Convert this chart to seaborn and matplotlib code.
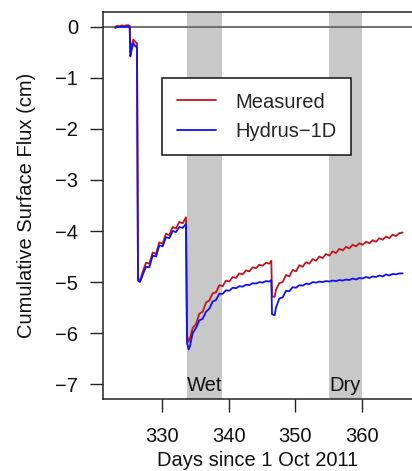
import matplotlib
matplotlib.use("Agg")
import matplotlib.pyplot as plt
import seaborn as sns
import pandas as pd
from matplotlib.lines import Line2D

days = [323.0, 323.3, 323.6, 324.0, 324.3, 324.6, 325.0, 325.15,
        325.25, 325.45, 325.7, 326.0, 326.25,
        326.4, 326.7, 327.1, 327.6, 328.1, 328.6, 329.1, 329.6, 330.1, 330.6,
        331.1, 331.6, 332.1, 332.6, 333.1, 333.6,
        333.75, 334.0, 334.2, 334.6, 335.1, 335.6, 336.1, 336.6, 337.1, 337.6,
        338.1, 338.6, 339.1, 339.6, 340.1, 340.6, 341.1, 341.6, 342.1, 342.6,
        343.1, 343.6, 344.1, 344.6, 345.1, 345.6, 346.1, 346.4,
        346.5, 346.9, 347.1, 347.6, 348.1, 348.6, 349.1, 349.6, 350.1, 350.6,
        351.1, 351.6, 352.1, 352.6, 353.1, 353.6, 354.1, 354.6, 355.1, 355.6,
        356.1, 356.6, 357.1, 357.6, 358.1, 358.6, 359.1, 359.6, 360.1, 360.6,
        361.1, 361.6, 362.1, 362.6, 363.1, 363.6, 364.1, 364.6, 365.1, 365.6,
        366.1]

measured = [0.00, 0.02, 0.01, 0.03, 0.01, 0.03, 0.03, 0.02,
            -0.50, -0.35, -0.25, -0.30, -0.32,
            -4.93, -4.97, -4.80, -4.62, -4.64, -4.42, -4.45, -4.22, -4.25, -4.05,
            -4.08, -3.92, -3.95, -3.82, -3.85, -3.73,
            -6.05, -6.17, -6.10, -5.90, -5.82, -5.62, -5.58, -5.40, -5.36, -5.22,
            -5.20, -5.06, -5.08, -4.97, -4.99, -4.90, -4.92, -4.83, -4.85, -4.77,
            -4.79, -4.71, -4.73, -4.66, -4.68, -4.62, -4.64, -4.58,
            -5.28, -5.29, -5.15, -5.02, -5.00, -4.86, -4.89, -4.76, -4.79, -4.67,
            -4.70, -4.61, -4.64, -4.55, -4.58, -4.50, -4.53, -4.45, -4.48, -4.40,
            -4.43, -4.35, -4.38, -4.31, -4.34, -4.27, -4.30, -4.24, -4.27, -4.21,
            -4.24, -4.18, -4.21, -4.14, -4.17, -4.11, -4.14, -4.07, -4.10, -4.04,
            -4.03]

hydrus = [-0.02, 0.00, -0.01, 0.01, -0.01, 0.01, 0.00, 0.00,
          -0.58, -0.45, -0.32, -0.38, -0.40,
          -4.97, -5.00, -4.86, -4.70, -4.71, -4.48, -4.50, -4.28, -4.30, -4.12,
          -4.14, -4.00, -4.02, -3.92, -3.94, -3.86,
          -6.20, -6.32, -6.25, -6.00, -5.90, -5.75, -5.72, -5.58, -5.52, -5.38,
          -5.35, -5.23, -5.23, -5.16, -5.17, -5.11, -5.12, -5.08, -5.09, -5.05,
          -5.06, -5.02, -5.03, -5.00, -5.01, -4.98, -4.99, -4.96,
          -5.63, -5.65, -5.50, -5.32, -5.30, -5.17, -5.18, -5.10, -5.11, -5.06,
          -5.07, -5.03, -5.04, -5.00, -5.01, -4.99, -5.00, -4.98, -4.99, -4.97,
          -4.98, -4.96, -4.97, -4.95, -4.96, -4.93, -4.95, -4.92, -4.93, -4.90,
          -4.92, -4.89, -4.90, -4.87, -4.89, -4.85, -4.87, -4.84, -4.85, -4.83,
          -4.83]

series_names = ["Measured", "Hydrus\u22121D"]
series_colors = ["#C0161E", "#1010F0"]
bands = [(333.7, 339.0, "Wet"), (355.0, 360.05, "Dry")]
xticks = [330, 340, 350, 360]
yticks = [0, -1, -2, -3, -4, -5, -6, -7]

df = pd.concat([
    pd.DataFrame({"day": days, "flux": measured, "series": series_names[0]}),
    pd.DataFrame({"day": days, "flux": hydrus, "series": series_names[1]}),
])

sns.set_style("white")
plt.rcParams["font.family"] = ["Liberation Sans", "DejaVu Sans"]

W, H = 412, 471
fig = plt.figure(figsize=(W / 100, H / 100), dpi=100)
ax = fig.add_axes([103 / W, (H - 399) / H, (W - 103) / W, (399 - 12) / H])

for x0, x1, lab in bands:
    ax.axvspan(x0, x1, color="#C8C8C8", lw=0, zorder=0)
    ax.text((x0 + x1) / 2, -7.02, lab, ha="center", va="center",
            fontsize=14.5, color="#111111")

ax.axhline(0, color="#666666", lw=1.3, zorder=1)

sns.lineplot(data=df, x="day", y="flux", hue="series",
             palette=dict(zip(series_names, series_colors)),
             lw=1.3, ax=ax, legend=False, zorder=3, sort=False,
             estimator=None)

ax.set_xlim(321.15, 367.5)
ax.set_ylim(-7.29, 0.29)
ax.set_xticks(xticks)
ax.set_yticks(yticks)
ax.set_xticklabels([str(t) for t in xticks])
ax.set_yticklabels([str(t).replace("-", "\u2212") for t in yticks])
ax.tick_params(axis="both", direction="out", length=9.4, width=1.0,
               color="#222222", labelsize=14.5, labelcolor="#111111",
               bottom=True, left=True)
ax.tick_params(axis="x", pad=11)
ax.tick_params(axis="y", pad=8.6)

for s in ["left", "top", "bottom"]:
    ax.spines[s].set_visible(True)
    ax.spines[s].set_color("#222222")
    ax.spines[s].set_linewidth(1.1)
ax.spines["right"].set_visible(False)

ax.set_xlabel("Days since 1 Oct 2011", fontsize=14.5, labelpad=3,
              color="#111111")
ax.set_ylabel("Cumulative Surface Flux (cm)", fontsize=14.5, labelpad=14,
              color="#111111")

handles = [Line2D([], [], color=c, lw=1.3) for c in series_colors]
leg = fig.legend(handles, series_names,
                 loc="upper left",
                 bbox_to_anchor=(162 / W, 1 - 153 / H, (351 - 162) / W, (153 - 78) / H),
                 mode="expand", fontsize=14.5, frameon=True, fancybox=False,
                 framealpha=1.0, facecolor="white",
                 edgecolor="#111111", handlelength=1.95, handletextpad=0.95,
                 borderpad=0.72, labelspacing=0.5, borderaxespad=0)
leg.get_frame().set_linewidth(1.1)

fig.savefig("out.png", dpi=100)
